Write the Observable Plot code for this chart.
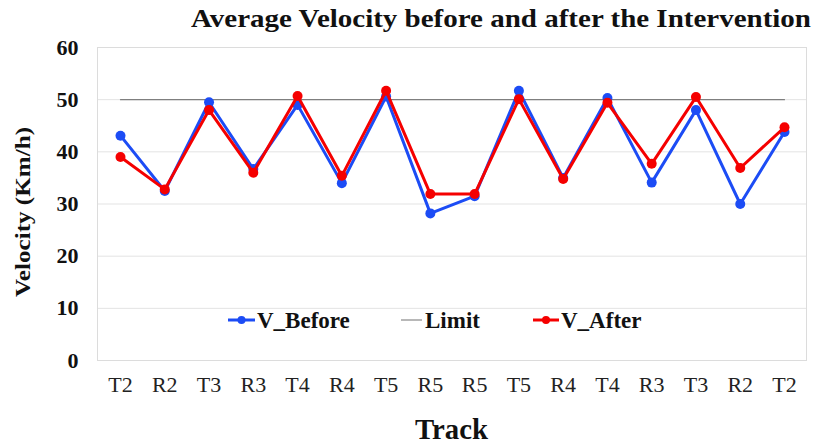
<!DOCTYPE html>
<html><head><meta charset="utf-8">
<script src="https://cdn.jsdelivr.net/npm/d3@7"></script>
<script src="https://cdn.jsdelivr.net/npm/@observablehq/plot@0.6"></script>
<style>
body{margin:0;background:#fff;}
#wrap{position:relative;width:815px;height:448px;font-family:"Liberation Serif","Times New Roman",serif;}
.abs{position:absolute;white-space:nowrap;line-height:1;}
</style></head><body>
<div id="wrap"></div>
<script>
const tracks = ["T2","R2","T3","R3","T4","R4","T5","R5","R5","T5","R4","T4","R3","T3","R2","T2"];
const vBefore = [43.1,32.5,49.5,36.7,49.0,34.0,50.6,28.2,31.5,51.7,35.0,50.3,34.1,48.0,30.0,43.8];
const vAfter  = [39.0,32.8,48.0,36.0,50.7,35.4,51.7,31.9,31.9,50.1,34.8,49.4,37.7,50.5,36.9,44.7];
const limitValue = 50;
const yTicks = [0,10,20,30,40,50,60];
const seriesNames = ["V_Before","Limit","V_After"];

const idx = d3.range(tracks.length);
const before = idx.map(i => ({i, v: vBefore[i]}));
const after = idx.map(i => ({i, v: vAfter[i]}));
const limit = idx.map(i => ({i, v: limitValue}));

const blue = "#1c4cf5", red = "#f50000", gray = "#7f7f7f";

const plot = Plot.plot({
  width: 815, height: 448,
  marginTop: 47, marginBottom: 88, marginLeft: 97, marginRight: 9,
  style: {fontFamily: '"Liberation Serif","Times New Roman",serif', background: "#fff"},
  x: {type: "point", domain: idx, padding: 0, range: [120, 784], round: false},
  y: {domain: [0, 60]},
  marks: [
    Plot.gridY(yTicks.filter(d => d > 0), {stroke: "#e3e3e3", strokeOpacity: 1}),
    Plot.frame({stroke: "#dcdcdc"}),
    Plot.axisY(yTicks, {tickSize: 0, tickPadding: 19, fontSize: 22, fontWeight: "bold", label: null, fill: "#111"}),
    Plot.axisX(idx, {tickSize: 0, tickPadding: 16, fontSize: 22, tickFormat: i => tracks[i], label: null, fill: "#222"}),
    Plot.line(limit, {x: "i", y: "v", stroke: gray, strokeWidth: 1.2}),
    Plot.line(before, {x: "i", y: "v", stroke: blue, strokeWidth: 3}),
    Plot.dot(before, {x: "i", y: "v", fill: blue, r: 5}),
    Plot.line(after, {x: "i", y: "v", stroke: red, strokeWidth: 3}),
    Plot.dot(after, {x: "i", y: "v", fill: red, r: 5})
  ]
});
const wrap = document.getElementById("wrap");
wrap.appendChild(plot);

function addText(txt, css, targetWidth){
  const d = document.createElement("div");
  d.className = "abs"; d.textContent = txt;
  Object.assign(d.style, css);
  wrap.appendChild(d);
  if (targetWidth) {
    const w = d.getBoundingClientRect().width;
    d.style.transformOrigin = "0 0";
    d.style.transform = `scaleX(${targetWidth / w})`;
  }
  return d;
}
addText("Average Velocity before and after the Intervention", {left:"191px", top:"6px", fontSize:"26px", fontWeight:"bold", color:"#111"}, 620);
addText("Track", {left:"415px", top:"415px", fontSize:"29px", fontWeight:"bold", color:"#111"}, 73);

// rotated y label: measure, then rotate about center
const yl = addText("Velocity (Km/h)", {left:"0px", top:"0px", fontSize:"22px", fontWeight:"bold", color:"#111"});
{
  const w = yl.getBoundingClientRect().width, h = yl.getBoundingClientRect().height;
  const sx = 170 / w;
  yl.style.left = (23 - w / 2) + "px";
  yl.style.top = (212 - h / 2) + "px";
  yl.style.transformOrigin = "50% 50%";
  yl.style.transform = `rotate(-90deg) scaleX(${sx})`;
}

// legend
const legend = [
  {name: seriesNames[0], color: blue, dot: true, x0: 228, x1: 255, tx: 257},
  {name: seriesNames[1], color: "#a0a0a0", dot: false, x0: 401, x1: 422, tx: 425},
  {name: seriesNames[2], color: red, dot: true, x0: 533, x1: 559, tx: 561}
];
legend.forEach(l => {
  const svg = document.createElementNS("http://www.w3.org/2000/svg","svg");
  const w = l.x1 - l.x0;
  svg.setAttribute("width", w); svg.setAttribute("height", 12);
  svg.style.position = "absolute"; svg.style.left = l.x0 + "px"; svg.style.top = "314px";
  svg.innerHTML = `<line x1="0" x2="${w}" y1="6" y2="6" stroke="${l.color}" stroke-width="${l.dot?3:1.5}"/>` + (l.dot ? `<circle cx="${w/2}" cy="6" r="4" fill="${l.color}"/>` : "");
  wrap.appendChild(svg);
  addText(l.name, {left: l.tx + "px", top: "309px", fontSize: "23px", fontWeight: "bold", color: "#111"});
});
</script>
</body></html>
